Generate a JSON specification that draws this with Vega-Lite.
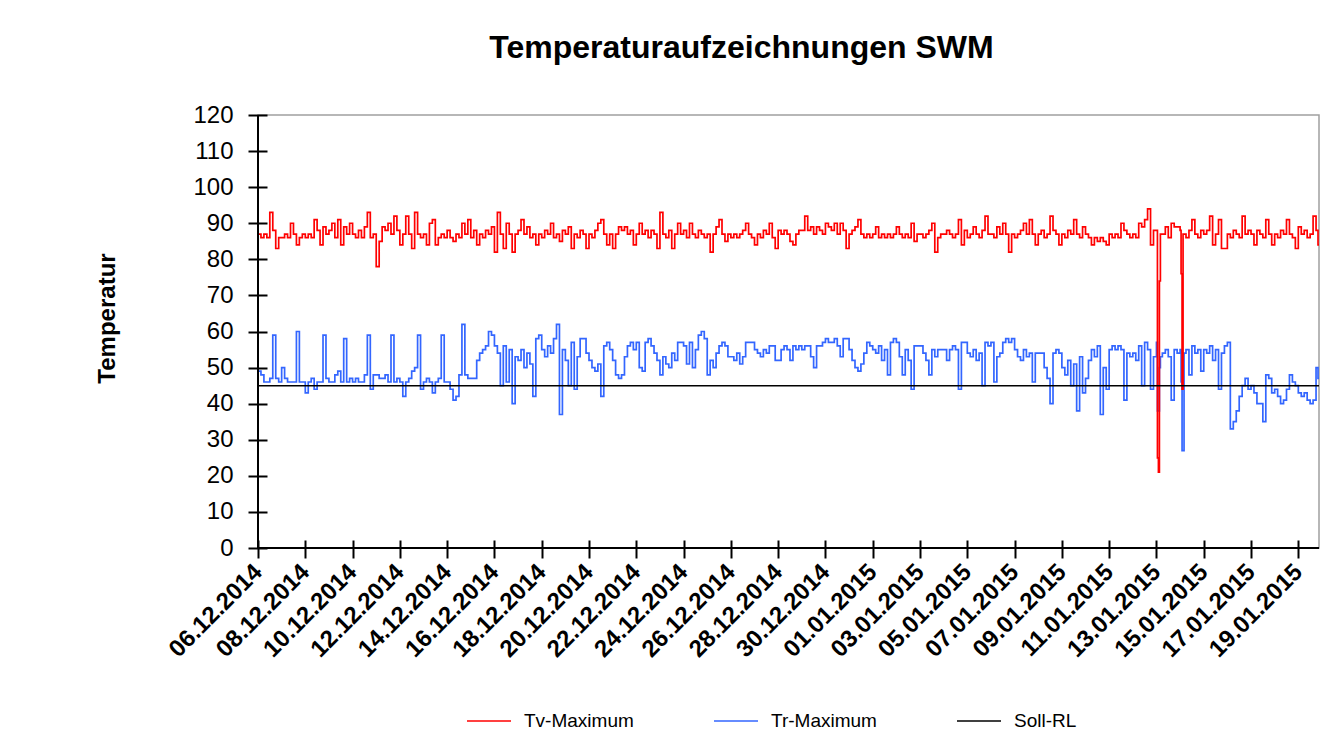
{
"$schema": "https://vega.github.io/schema/vega-lite/v6.json",
"width": 1061, "height": 433,
"autosize": {"type": "none"},
"padding": {"left": 258, "top": 115, "right": 22, "bottom": 202},
"background": "white",
"title": {"text": "Temperaturaufzeichnungen SWM", "fontSize": 32, "fontWeight": "bold", "font": "Liberation Sans", "anchor": "middle", "frame": "group", "dx": -47, "offset": 13, "baseline": "alphabetic", "color": "black"},
"config": {"font": "Liberation Sans", "view": {"stroke": "#a0a0a0", "strokeWidth": 1.5},
"legend": {"orient": "none", "legendX": 208, "legendY": 583, "direction": "horizontal", "padding": 0, "symbolType": "stroke", "symbolSize": 1936, "symbolStrokeWidth": 1.5, "labelFontSize": 19, "labelColor": "black", "labelOffset": 12, "columnPadding": 77, "symbolOffset": 0}},
"datasets": {
"soll": [{"series": "Soll-RL", "v": 45}],
"temps": [
{"t":"2014-12-06T00:00","tv":87,"tr":49},{"t":"2014-12-06T03:00","tv":86,"tr":48},{"t":"2014-12-06T06:00","tv":87,"tr":46},{"t":"2014-12-06T09:00","tv":86,"tr":46},{"t":"2014-12-06T12:00","tv":93,"tr":47},{"t":"2014-12-06T15:00","tv":88,"tr":59},{"t":"2014-12-06T18:00","tv":83,"tr":47},{"t":"2014-12-06T21:00","tv":86,"tr":46},
{"t":"2014-12-07T00:00","tv":86,"tr":50},{"t":"2014-12-07T03:00","tv":87,"tr":47},{"t":"2014-12-07T06:00","tv":86,"tr":46},{"t":"2014-12-07T09:00","tv":90,"tr":46},{"t":"2014-12-07T12:00","tv":87,"tr":46},{"t":"2014-12-07T15:00","tv":84,"tr":60},{"t":"2014-12-07T18:00","tv":86,"tr":46},{"t":"2014-12-07T21:00","tv":87,"tr":46},
{"t":"2014-12-08T00:00","tv":86,"tr":43},{"t":"2014-12-08T03:00","tv":87,"tr":46},{"t":"2014-12-08T06:00","tv":86,"tr":47},{"t":"2014-12-08T09:00","tv":91,"tr":44},{"t":"2014-12-08T12:00","tv":88,"tr":46},{"t":"2014-12-08T15:00","tv":84,"tr":46},{"t":"2014-12-08T18:00","tv":89,"tr":59},{"t":"2014-12-08T21:00","tv":87,"tr":47},
{"t":"2014-12-09T00:00","tv":88,"tr":46},{"t":"2014-12-09T03:00","tv":90,"tr":46},{"t":"2014-12-09T06:00","tv":86,"tr":48},{"t":"2014-12-09T09:00","tv":91,"tr":49},{"t":"2014-12-09T12:00","tv":84,"tr":46},{"t":"2014-12-09T15:00","tv":89,"tr":58},{"t":"2014-12-09T18:00","tv":87,"tr":46},{"t":"2014-12-09T21:00","tv":90,"tr":47},
{"t":"2014-12-10T00:00","tv":87,"tr":46},{"t":"2014-12-10T03:00","tv":86,"tr":47},{"t":"2014-12-10T06:00","tv":88,"tr":46},{"t":"2014-12-10T09:00","tv":86,"tr":46},{"t":"2014-12-10T12:00","tv":89,"tr":48},{"t":"2014-12-10T15:00","tv":93,"tr":59},{"t":"2014-12-10T18:00","tv":86,"tr":44},{"t":"2014-12-10T21:00","tv":87,"tr":48},
{"t":"2014-12-11T00:00","tv":78,"tr":48},{"t":"2014-12-11T03:00","tv":85,"tr":47},{"t":"2014-12-11T06:00","tv":89,"tr":47},{"t":"2014-12-11T09:00","tv":88,"tr":48},{"t":"2014-12-11T12:00","tv":90,"tr":46},{"t":"2014-12-11T15:00","tv":87,"tr":59},{"t":"2014-12-11T18:00","tv":92,"tr":46},{"t":"2014-12-11T21:00","tv":88,"tr":47},
{"t":"2014-12-12T00:00","tv":84,"tr":46},{"t":"2014-12-12T03:00","tv":87,"tr":42},{"t":"2014-12-12T06:00","tv":92,"tr":46},{"t":"2014-12-12T09:00","tv":87,"tr":47},{"t":"2014-12-12T12:00","tv":83,"tr":49},{"t":"2014-12-12T15:00","tv":93,"tr":50},{"t":"2014-12-12T18:00","tv":87,"tr":59},{"t":"2014-12-12T21:00","tv":86,"tr":44},
{"t":"2014-12-13T00:00","tv":87,"tr":46},{"t":"2014-12-13T03:00","tv":84,"tr":47},{"t":"2014-12-13T06:00","tv":90,"tr":46},{"t":"2014-12-13T09:00","tv":91,"tr":43},{"t":"2014-12-13T12:00","tv":84,"tr":46},{"t":"2014-12-13T15:00","tv":86,"tr":47},{"t":"2014-12-13T18:00","tv":87,"tr":59},{"t":"2014-12-13T21:00","tv":86,"tr":46},
{"t":"2014-12-14T00:00","tv":88,"tr":46},{"t":"2014-12-14T03:00","tv":86,"tr":44},{"t":"2014-12-14T06:00","tv":85,"tr":41},{"t":"2014-12-14T09:00","tv":87,"tr":42},{"t":"2014-12-14T12:00","tv":86,"tr":48},{"t":"2014-12-14T15:00","tv":90,"tr":62},{"t":"2014-12-14T18:00","tv":87,"tr":48},{"t":"2014-12-14T21:00","tv":91,"tr":47},
{"t":"2014-12-15T00:00","tv":86,"tr":47},{"t":"2014-12-15T03:00","tv":88,"tr":47},{"t":"2014-12-15T06:00","tv":84,"tr":52},{"t":"2014-12-15T09:00","tv":87,"tr":54},{"t":"2014-12-15T12:00","tv":86,"tr":55},{"t":"2014-12-15T15:00","tv":88,"tr":56},{"t":"2014-12-15T18:00","tv":87,"tr":60},{"t":"2014-12-15T21:00","tv":89,"tr":59},
{"t":"2014-12-16T00:00","tv":82,"tr":56},{"t":"2014-12-16T03:00","tv":93,"tr":54},{"t":"2014-12-16T06:00","tv":87,"tr":45},{"t":"2014-12-16T09:00","tv":83,"tr":56},{"t":"2014-12-16T12:00","tv":90,"tr":46},{"t":"2014-12-16T15:00","tv":87,"tr":55},{"t":"2014-12-16T18:00","tv":82,"tr":40},{"t":"2014-12-16T21:00","tv":87,"tr":53},
{"t":"2014-12-17T00:00","tv":88,"tr":52},{"t":"2014-12-17T03:00","tv":91,"tr":55},{"t":"2014-12-17T06:00","tv":87,"tr":50},{"t":"2014-12-17T09:00","tv":89,"tr":54},{"t":"2014-12-17T12:00","tv":86,"tr":51},{"t":"2014-12-17T15:00","tv":87,"tr":42},{"t":"2014-12-17T18:00","tv":84,"tr":58},{"t":"2014-12-17T21:00","tv":87,"tr":59},
{"t":"2014-12-18T00:00","tv":86,"tr":55},{"t":"2014-12-18T03:00","tv":88,"tr":53},{"t":"2014-12-18T06:00","tv":87,"tr":56},{"t":"2014-12-18T09:00","tv":90,"tr":54},{"t":"2014-12-18T12:00","tv":86,"tr":58},{"t":"2014-12-18T15:00","tv":87,"tr":62},{"t":"2014-12-18T18:00","tv":85,"tr":37},{"t":"2014-12-18T21:00","tv":88,"tr":55},
{"t":"2014-12-19T00:00","tv":87,"tr":52},{"t":"2014-12-19T03:00","tv":89,"tr":45},{"t":"2014-12-19T06:00","tv":83,"tr":57},{"t":"2014-12-19T09:00","tv":87,"tr":44},{"t":"2014-12-19T12:00","tv":86,"tr":53},{"t":"2014-12-19T15:00","tv":88,"tr":58},{"t":"2014-12-19T18:00","tv":87,"tr":58},{"t":"2014-12-19T21:00","tv":83,"tr":54},
{"t":"2014-12-20T00:00","tv":87,"tr":52},{"t":"2014-12-20T03:00","tv":86,"tr":50},{"t":"2014-12-20T06:00","tv":88,"tr":49},{"t":"2014-12-20T09:00","tv":90,"tr":51},{"t":"2014-12-20T12:00","tv":91,"tr":42},{"t":"2014-12-20T15:00","tv":87,"tr":56},{"t":"2014-12-20T18:00","tv":84,"tr":57},{"t":"2014-12-20T21:00","tv":87,"tr":55},
{"t":"2014-12-21T00:00","tv":83,"tr":52},{"t":"2014-12-21T03:00","tv":87,"tr":48},{"t":"2014-12-21T06:00","tv":89,"tr":47},{"t":"2014-12-21T09:00","tv":88,"tr":48},{"t":"2014-12-21T12:00","tv":89,"tr":53},{"t":"2014-12-21T15:00","tv":87,"tr":56},{"t":"2014-12-21T18:00","tv":88,"tr":57},{"t":"2014-12-21T21:00","tv":84,"tr":55},
{"t":"2014-12-22T00:00","tv":87,"tr":57},{"t":"2014-12-22T03:00","tv":90,"tr":50},{"t":"2014-12-22T06:00","tv":87,"tr":49},{"t":"2014-12-22T09:00","tv":88,"tr":57},{"t":"2014-12-22T12:00","tv":86,"tr":58},{"t":"2014-12-22T15:00","tv":88,"tr":56},{"t":"2014-12-22T18:00","tv":87,"tr":54},{"t":"2014-12-22T21:00","tv":83,"tr":52},
{"t":"2014-12-23T00:00","tv":93,"tr":48},{"t":"2014-12-23T03:00","tv":87,"tr":53},{"t":"2014-12-23T06:00","tv":86,"tr":51},{"t":"2014-12-23T09:00","tv":88,"tr":50},{"t":"2014-12-23T12:00","tv":83,"tr":54},{"t":"2014-12-23T15:00","tv":87,"tr":52},{"t":"2014-12-23T18:00","tv":90,"tr":57},{"t":"2014-12-23T21:00","tv":87,"tr":57},
{"t":"2014-12-24T00:00","tv":88,"tr":56},{"t":"2014-12-24T03:00","tv":86,"tr":51},{"t":"2014-12-24T06:00","tv":90,"tr":57},{"t":"2014-12-24T09:00","tv":87,"tr":50},{"t":"2014-12-24T12:00","tv":86,"tr":55},{"t":"2014-12-24T15:00","tv":88,"tr":59},{"t":"2014-12-24T18:00","tv":87,"tr":60},{"t":"2014-12-24T21:00","tv":86,"tr":58},
{"t":"2014-12-25T00:00","tv":87,"tr":48},{"t":"2014-12-25T03:00","tv":82,"tr":52},{"t":"2014-12-25T06:00","tv":87,"tr":50},{"t":"2014-12-25T09:00","tv":89,"tr":54},{"t":"2014-12-25T12:00","tv":91,"tr":56},{"t":"2014-12-25T15:00","tv":87,"tr":57},{"t":"2014-12-25T18:00","tv":85,"tr":56},{"t":"2014-12-25T21:00","tv":87,"tr":53},
{"t":"2014-12-26T00:00","tv":86,"tr":53},{"t":"2014-12-26T03:00","tv":87,"tr":52},{"t":"2014-12-26T06:00","tv":86,"tr":54},{"t":"2014-12-26T09:00","tv":87,"tr":51},{"t":"2014-12-26T12:00","tv":88,"tr":53},{"t":"2014-12-26T15:00","tv":90,"tr":57},{"t":"2014-12-26T18:00","tv":87,"tr":57},{"t":"2014-12-26T21:00","tv":86,"tr":57},
{"t":"2014-12-27T00:00","tv":84,"tr":55},{"t":"2014-12-27T03:00","tv":87,"tr":54},{"t":"2014-12-27T06:00","tv":86,"tr":53},{"t":"2014-12-27T09:00","tv":88,"tr":55},{"t":"2014-12-27T12:00","tv":87,"tr":54},{"t":"2014-12-27T15:00","tv":90,"tr":56},{"t":"2014-12-27T18:00","tv":86,"tr":56},{"t":"2014-12-27T21:00","tv":83,"tr":52},
{"t":"2014-12-28T00:00","tv":88,"tr":52},{"t":"2014-12-28T03:00","tv":87,"tr":55},{"t":"2014-12-28T06:00","tv":88,"tr":56},{"t":"2014-12-28T09:00","tv":87,"tr":55},{"t":"2014-12-28T12:00","tv":85,"tr":52},{"t":"2014-12-28T15:00","tv":84,"tr":56},{"t":"2014-12-28T18:00","tv":87,"tr":55},{"t":"2014-12-28T21:00","tv":88,"tr":56},
{"t":"2014-12-29T00:00","tv":88,"tr":55},{"t":"2014-12-29T03:00","tv":92,"tr":56},{"t":"2014-12-29T06:00","tv":88,"tr":56},{"t":"2014-12-29T09:00","tv":89,"tr":53},{"t":"2014-12-29T12:00","tv":87,"tr":50},{"t":"2014-12-29T15:00","tv":89,"tr":56},{"t":"2014-12-29T18:00","tv":88,"tr":56},{"t":"2014-12-29T21:00","tv":87,"tr":57},
{"t":"2014-12-30T00:00","tv":90,"tr":58},{"t":"2014-12-30T03:00","tv":89,"tr":57},{"t":"2014-12-30T06:00","tv":88,"tr":57},{"t":"2014-12-30T09:00","tv":90,"tr":58},{"t":"2014-12-30T12:00","tv":87,"tr":56},{"t":"2014-12-30T15:00","tv":90,"tr":53},{"t":"2014-12-30T18:00","tv":88,"tr":58},{"t":"2014-12-30T21:00","tv":83,"tr":58},
{"t":"2014-12-31T00:00","tv":87,"tr":55},{"t":"2014-12-31T03:00","tv":88,"tr":52},{"t":"2014-12-31T06:00","tv":89,"tr":50},{"t":"2014-12-31T09:00","tv":91,"tr":49},{"t":"2014-12-31T12:00","tv":87,"tr":51},{"t":"2014-12-31T15:00","tv":86,"tr":54},{"t":"2014-12-31T18:00","tv":87,"tr":57},{"t":"2014-12-31T21:00","tv":86,"tr":56},
{"t":"2015-01-01T00:00","tv":87,"tr":55},{"t":"2015-01-01T03:00","tv":89,"tr":54},{"t":"2015-01-01T06:00","tv":86,"tr":56},{"t":"2015-01-01T09:00","tv":87,"tr":52},{"t":"2015-01-01T12:00","tv":86,"tr":55},{"t":"2015-01-01T15:00","tv":87,"tr":48},{"t":"2015-01-01T18:00","tv":86,"tr":57},{"t":"2015-01-01T21:00","tv":87,"tr":58},
{"t":"2015-01-02T00:00","tv":89,"tr":57},{"t":"2015-01-02T03:00","tv":87,"tr":53},{"t":"2015-01-02T06:00","tv":86,"tr":48},{"t":"2015-01-02T09:00","tv":87,"tr":55},{"t":"2015-01-02T12:00","tv":86,"tr":52},{"t":"2015-01-02T15:00","tv":90,"tr":44},{"t":"2015-01-02T18:00","tv":85,"tr":56},{"t":"2015-01-02T21:00","tv":87,"tr":56},
{"t":"2015-01-03T00:00","tv":87,"tr":56},{"t":"2015-01-03T03:00","tv":86,"tr":54},{"t":"2015-01-03T06:00","tv":87,"tr":52},{"t":"2015-01-03T09:00","tv":88,"tr":48},{"t":"2015-01-03T12:00","tv":90,"tr":55},{"t":"2015-01-03T15:00","tv":82,"tr":53},{"t":"2015-01-03T18:00","tv":86,"tr":55},{"t":"2015-01-03T21:00","tv":87,"tr":55},
{"t":"2015-01-04T00:00","tv":87,"tr":55},{"t":"2015-01-04T03:00","tv":88,"tr":52},{"t":"2015-01-04T06:00","tv":87,"tr":55},{"t":"2015-01-04T09:00","tv":86,"tr":56},{"t":"2015-01-04T12:00","tv":87,"tr":55},{"t":"2015-01-04T15:00","tv":91,"tr":44},{"t":"2015-01-04T18:00","tv":84,"tr":57},{"t":"2015-01-04T21:00","tv":88,"tr":57},
{"t":"2015-01-05T00:00","tv":86,"tr":54},{"t":"2015-01-05T03:00","tv":87,"tr":53},{"t":"2015-01-05T06:00","tv":89,"tr":55},{"t":"2015-01-05T09:00","tv":87,"tr":52},{"t":"2015-01-05T12:00","tv":86,"tr":54},{"t":"2015-01-05T15:00","tv":88,"tr":45},{"t":"2015-01-05T18:00","tv":92,"tr":57},{"t":"2015-01-05T21:00","tv":87,"tr":56},
{"t":"2015-01-06T00:00","tv":87,"tr":57},{"t":"2015-01-06T03:00","tv":86,"tr":46},{"t":"2015-01-06T06:00","tv":89,"tr":53},{"t":"2015-01-06T09:00","tv":87,"tr":54},{"t":"2015-01-06T12:00","tv":90,"tr":57},{"t":"2015-01-06T15:00","tv":87,"tr":58},{"t":"2015-01-06T18:00","tv":82,"tr":57},{"t":"2015-01-06T21:00","tv":87,"tr":58},
{"t":"2015-01-07T00:00","tv":86,"tr":55},{"t":"2015-01-07T03:00","tv":87,"tr":53},{"t":"2015-01-07T06:00","tv":88,"tr":52},{"t":"2015-01-07T09:00","tv":90,"tr":55},{"t":"2015-01-07T12:00","tv":87,"tr":53},{"t":"2015-01-07T15:00","tv":91,"tr":54},{"t":"2015-01-07T18:00","tv":87,"tr":46},{"t":"2015-01-07T21:00","tv":84,"tr":54},
{"t":"2015-01-08T00:00","tv":87,"tr":54},{"t":"2015-01-08T03:00","tv":88,"tr":54},{"t":"2015-01-08T06:00","tv":86,"tr":50},{"t":"2015-01-08T09:00","tv":87,"tr":47},{"t":"2015-01-08T12:00","tv":92,"tr":40},{"t":"2015-01-08T15:00","tv":88,"tr":54},{"t":"2015-01-08T18:00","tv":87,"tr":55},{"t":"2015-01-08T21:00","tv":84,"tr":54},
{"t":"2015-01-09T00:00","tv":87,"tr":50},{"t":"2015-01-09T03:00","tv":86,"tr":48},{"t":"2015-01-09T06:00","tv":88,"tr":52},{"t":"2015-01-09T09:00","tv":87,"tr":45},{"t":"2015-01-09T12:00","tv":91,"tr":51},{"t":"2015-01-09T15:00","tv":87,"tr":38},{"t":"2015-01-09T18:00","tv":86,"tr":53},{"t":"2015-01-09T21:00","tv":89,"tr":43},
{"t":"2015-01-10T00:00","tv":87,"tr":47},{"t":"2015-01-10T03:00","tv":86,"tr":52},{"t":"2015-01-10T06:00","tv":84,"tr":55},{"t":"2015-01-10T09:00","tv":86,"tr":53},{"t":"2015-01-10T12:00","tv":85,"tr":56},{"t":"2015-01-10T15:00","tv":86,"tr":37},{"t":"2015-01-10T18:00","tv":85,"tr":50},{"t":"2015-01-10T21:00","tv":84,"tr":44},
{"t":"2015-01-11T00:00","tv":87,"tr":55},{"t":"2015-01-11T03:00","tv":86,"tr":56},{"t":"2015-01-11T06:00","tv":87,"tr":55},{"t":"2015-01-11T09:00","tv":86,"tr":56},{"t":"2015-01-11T12:00","tv":90,"tr":55},{"t":"2015-01-11T15:00","tv":88,"tr":41},{"t":"2015-01-11T18:00","tv":87,"tr":54},{"t":"2015-01-11T21:00","tv":86,"tr":53},
{"t":"2015-01-12T00:00","tv":87,"tr":54},{"t":"2015-01-12T03:00","tv":86,"tr":52},{"t":"2015-01-12T06:00","tv":90,"tr":56},{"t":"2015-01-12T09:00","tv":89,"tr":45},{"t":"2015-01-12T12:00","tv":91,"tr":57},{"t":"2015-01-12T15:00","tv":94,"tr":55},{"t":"2015-01-12T18:00","tv":84,"tr":44},{"t":"2015-01-12T21:00","tv":88,"tr":53},
{"t":"2015-01-13T00:00","tv":88,"tr":57},{"t":"2015-01-13T01:00","tv":25,"tr":38},{"t":"2015-01-13T02:00","tv":21,"tr":38},{"t":"2015-01-13T03:00","tv":74,"tr":50},{"t":"2015-01-13T04:00","tv":87,"tr":53},{"t":"2015-01-13T06:00","tv":87,"tr":54},{"t":"2015-01-13T09:00","tv":89,"tr":55},{"t":"2015-01-13T12:00","tv":86,"tr":53},{"t":"2015-01-13T15:00","tv":90,"tr":41},{"t":"2015-01-13T18:00","tv":89,"tr":55},{"t":"2015-01-13T21:00","tv":89,"tr":54},
{"t":"2015-01-14T00:00","tv":88,"tr":55},{"t":"2015-01-14T01:00","tv":76,"tr":46},{"t":"2015-01-14T02:00","tv":44,"tr":27},{"t":"2015-01-14T03:00","tv":87,"tr":27},{"t":"2015-01-14T04:00","tv":87,"tr":54},{"t":"2015-01-14T06:00","tv":86,"tr":55},{"t":"2015-01-14T09:00","tv":88,"tr":48},{"t":"2015-01-14T12:00","tv":91,"tr":56},{"t":"2015-01-14T15:00","tv":87,"tr":54},{"t":"2015-01-14T18:00","tv":86,"tr":55},{"t":"2015-01-14T21:00","tv":88,"tr":49},
{"t":"2015-01-15T00:00","tv":87,"tr":55},{"t":"2015-01-15T03:00","tv":88,"tr":54},{"t":"2015-01-15T06:00","tv":92,"tr":56},{"t":"2015-01-15T09:00","tv":84,"tr":52},{"t":"2015-01-15T12:00","tv":87,"tr":55},{"t":"2015-01-15T15:00","tv":91,"tr":44},{"t":"2015-01-15T18:00","tv":83,"tr":54},{"t":"2015-01-15T21:00","tv":83,"tr":56},
{"t":"2015-01-16T00:00","tv":87,"tr":57},{"t":"2015-01-16T03:00","tv":86,"tr":33},{"t":"2015-01-16T06:00","tv":88,"tr":35},{"t":"2015-01-16T09:00","tv":87,"tr":38},{"t":"2015-01-16T12:00","tv":86,"tr":42},{"t":"2015-01-16T15:00","tv":92,"tr":45},{"t":"2015-01-16T18:00","tv":87,"tr":47},{"t":"2015-01-16T21:00","tv":88,"tr":44},
{"t":"2015-01-17T00:00","tv":87,"tr":45},{"t":"2015-01-17T03:00","tv":84,"tr":43},{"t":"2015-01-17T06:00","tv":88,"tr":40},{"t":"2015-01-17T09:00","tv":87,"tr":40},{"t":"2015-01-17T12:00","tv":86,"tr":35},{"t":"2015-01-17T15:00","tv":91,"tr":48},{"t":"2015-01-17T18:00","tv":87,"tr":47},{"t":"2015-01-17T21:00","tv":84,"tr":43},
{"t":"2015-01-18T00:00","tv":87,"tr":44},{"t":"2015-01-18T03:00","tv":86,"tr":42},{"t":"2015-01-18T06:00","tv":88,"tr":40},{"t":"2015-01-18T09:00","tv":87,"tr":41},{"t":"2015-01-18T12:00","tv":91,"tr":44},{"t":"2015-01-18T15:00","tv":87,"tr":48},{"t":"2015-01-18T18:00","tv":86,"tr":46},{"t":"2015-01-18T21:00","tv":83,"tr":45},
{"t":"2015-01-19T00:00","tv":89,"tr":43},{"t":"2015-01-19T03:00","tv":87,"tr":42},{"t":"2015-01-19T06:00","tv":88,"tr":43},{"t":"2015-01-19T09:00","tv":86,"tr":41},{"t":"2015-01-19T12:00","tv":87,"tr":40},{"t":"2015-01-19T15:00","tv":92,"tr":41},{"t":"2015-01-19T18:00","tv":88,"tr":50},{"t":"2015-01-19T20:00","tv":84,"tr":47},{"t":"2015-01-19T21:00","tv":84,"tr":47}
]
},
"layer": [
{
"data": {"name": "temps"},
"mark": {"type": "line", "interpolate": "step-after", "strokeWidth": 1.7, "clip": true},
"encoding": {
"x": {"field": "t", "type": "temporal",
"scale": {"domain": [{"year": 2014, "month": 12, "date": 6}, {"year": 2015, "month": 1, "date": 19, "hours": 21}]},
"axis": {"title": null, "format": "%d.%m.%Y", "formatType": "time", "tickCount": 40,
"values": [{"year":2014,"month":12,"date":6},{"year":2014,"month":12,"date":8},{"year":2014,"month":12,"date":10},{"year":2014,"month":12,"date":12},{"year":2014,"month":12,"date":14},{"year":2014,"month":12,"date":16},{"year":2014,"month":12,"date":18},{"year":2014,"month":12,"date":20},{"year":2014,"month":12,"date":22},{"year":2014,"month":12,"date":24},{"year":2014,"month":12,"date":26},{"year":2014,"month":12,"date":28},{"year":2014,"month":12,"date":30},{"year":2015,"month":1,"date":1},{"year":2015,"month":1,"date":3},{"year":2015,"month":1,"date":5},{"year":2015,"month":1,"date":7},{"year":2015,"month":1,"date":9},{"year":2015,"month":1,"date":11},{"year":2015,"month":1,"date":13},{"year":2015,"month":1,"date":15},{"year":2015,"month":1,"date":17},{"year":2015,"month":1,"date":19}],
"labelAngle": -45, "labelAlign": "right", "labelBaseline": "middle", "labelFontSize": 24, "labelFontWeight": "bold", "labelColor": "black", "labelPadding": 10,
"labelOverlap": false, "labelFlush": false, "labelBound": false,
"tickSize": 18, "tickWidth": 2, "tickColor": "black", "offset": -8, "domain": false, "grid": false}
},
"y": {"field": "tr", "type": "quantitative",
"scale": {"domain": [0, 120], "nice": false},
"axis": {"title": "Temperatur", "titleFontSize": 24, "titleFontWeight": "bold", "titleColor": "black", "titleX": -160, "titleY": 203, "titleAngle": -90, "titleAlign": "center", "titleBaseline": "middle",
"values": [0,10,20,30,40,50,60,70,80,90,100,110,120], "tickCount": 20, "labelFontSize": 24, "labelColor": "black", "labelPadding": 15, "labelFlush": false, "labelOverlap": false,
"tickSize": 19, "tickWidth": 2, "tickColor": "black", "offset": -9, "domain": false, "grid": false}
},
"color": {"datum": "Tr-Maximum", "type": "nominal", "title": null,
"scale": {"domain": ["Tv-Maximum", "Tr-Maximum", "Soll-RL"], "range": ["#ff0000", "#3366ff", "#000000"]},
"legend": {"title": null}
}
}
},
{
"data": {"name": "temps"},
"mark": {"type": "line", "interpolate": "step-after", "strokeWidth": 1.7, "clip": true},
"encoding": {
"x": {"field": "t", "type": "temporal"},
"y": {"field": "tv", "type": "quantitative",
"axis": {"title": "Temperatur", "titleFontSize": 24, "titleFontWeight": "bold", "titleColor": "black", "titleX": -160, "titleY": 203, "titleAngle": -90, "titleAlign": "center", "titleBaseline": "middle",
"values": [0,10,20,30,40,50,60,70,80,90,100,110,120], "tickCount": 20, "labelFontSize": 24, "labelColor": "black", "labelPadding": 15, "labelFlush": false, "labelOverlap": false,
"tickSize": 19, "tickWidth": 2, "tickColor": "black", "offset": -9, "domain": false, "grid": false}},
"color": {"datum": "Tv-Maximum", "type": "nominal", "title": null, "legend": {"title": null}}
}
},
{
"data": {"name": "soll"},
"mark": {"type": "rule", "strokeWidth": 1.5},
"encoding": {
"y": {"field": "v", "type": "quantitative",
"axis": {"title": "Temperatur", "titleFontSize": 24, "titleFontWeight": "bold", "titleColor": "black", "titleX": -160, "titleY": 203, "titleAngle": -90, "titleAlign": "center", "titleBaseline": "middle",
"values": [0,10,20,30,40,50,60,70,80,90,100,110,120], "tickCount": 20, "labelFontSize": 24, "labelColor": "black", "labelPadding": 15, "labelFlush": false, "labelOverlap": false,
"tickSize": 19, "tickWidth": 2, "tickColor": "black", "offset": -9, "domain": false, "grid": false}},
"color": {"field": "series", "type": "nominal", "title": null, "legend": {"title": null}}
}
},
{
"data": {"values": [{}]},
"mark": {"type": "rule", "color": "black", "strokeWidth": 2},
"encoding": {"y": {"datum": 0, "type": "quantitative",
"axis": {"title": "Temperatur", "titleFontSize": 24, "titleFontWeight": "bold", "titleColor": "black", "titleX": -160, "titleY": 203, "titleAngle": -90, "titleAlign": "center", "titleBaseline": "middle",
"values": [0,10,20,30,40,50,60,70,80,90,100,110,120], "tickCount": 20, "labelFontSize": 24, "labelColor": "black", "labelPadding": 15, "labelFlush": false, "labelOverlap": false,
"tickSize": 19, "tickWidth": 2, "tickColor": "black", "offset": -9, "domain": false, "grid": false}}}
},
{
"data": {"values": [{}]},
"mark": {"type": "rule", "color": "black", "strokeWidth": 2},
"encoding": {"x": {"datum": {"year": 2014, "month": 12, "date": 6}, "type": "temporal"}}
}
]
}
